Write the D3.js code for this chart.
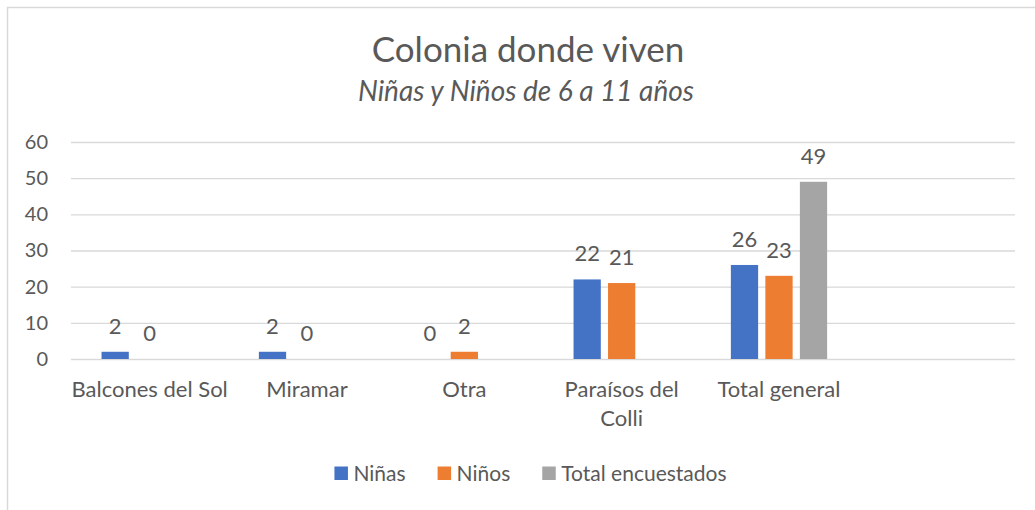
<!DOCTYPE html>
<html>
<head>
<meta charset="utf-8">
<script src="https://d3js.org/d3.v7.min.js"></script>
<style>
  html, body { margin: 0; padding: 0; background: #fff; }
  svg text { font-family: Lato, "Open Sans", sans-serif; fill: #595959; }
</style>
</head>
<body>
<div id="chart"></div>
<script>
// datos
const categories = ["Balcones del Sol", "Miramar", "Otra", "Paraísos del Colli", "Total general", ""];
const seriesNames = ["Niñas", "Niños", "Total encuestados"];
const ninas = [2, 2, 0, 22, 26, null];
const ninos = [0, 0, 2, 21, 23, null];
const totalEncuestados = [null, null, null, null, 49, null];
const yTicks = [0, 10, 20, 30, 40, 50, 60];
const colors = ["#4472C4", "#ED7D31", "#A5A5A5"];

const width = 1035;
const height = 510;
const margin = { top: 142, right: 20, bottom: 151, left: 71 };
const innerW = width - margin.left - margin.right;
const innerH = height - margin.top - margin.bottom;

const svg = d3
  .select("#chart")
  .append("svg")
  .attr("width", width)
  .attr("height", height);

// marco del gráfico
svg
  .append("rect")
  .attr("x", 7.5)
  .attr("y", 7.5)
  .attr("width", width + 10)
  .attr("height", height + 10)
  .attr("fill", "none")
  .attr("stroke", "#d9d9d9")
  .attr("stroke-width", 1.5);

// títulos
svg
  .append("text")
  .attr("x", 528)
  .attr("y", 62)
  .attr("text-anchor", "middle")
  .style("font-size", "35px")
  .text("Colonia donde viven");

svg
  .append("text")
  .attr("x", 526)
  .attr("y", 101)
  .attr("text-anchor", "middle")
  .style("font-size", "28px")
  .style("font-style", "italic")
  .text("Niñas y Niños de 6 a 11 años");

const g = svg
  .append("g")
  .attr("transform", `translate(${margin.left},${margin.top})`);

const x0 = d3.scaleBand().domain(d3.range(categories.length)).range([0, innerW]);
const x1 = d3
  .scaleBand()
  .domain(seriesNames)
  .range([0, x0.bandwidth()])
  .paddingInner(0.21)
  .paddingOuter(0.885);
const y = d3.scaleLinear().domain([0, 60]).range([innerH, 0]);

// líneas de cuadrícula
g.append("g")
  .call(d3.axisLeft(y).tickValues(yTicks).tickSize(-innerW).tickFormat(""))
  .call((s) => s.select(".domain").remove())
  .selectAll("line")
  .attr("stroke", "#d9d9d9")
  .attr("stroke-width", 1.3);

// etiquetas eje Y
g.append("g")
  .call(d3.axisLeft(y).tickValues(yTicks).tickSize(0).tickPadding(23))
  .call((s) => s.select(".domain").remove())
  .selectAll("text")
  .style("font-size", "20px")
  .style("font-family", "Lato, sans-serif")
  .attr("fill", "#595959");

// barras
const series = [ninas, ninos, totalEncuestados];
const rows = [];
series.forEach((vals, si) => {
  vals.forEach((v, ci) => {
    if (v !== null) rows.push({ ci, name: seriesNames[si], color: colors[si], v });
  });
});

g.selectAll(".bar")
  .data(rows)
  .enter()
  .append("rect")
  .attr("class", "bar")
  .attr("x", (d) => x0(d.ci) + x1(d.name))
  .attr("y", (d) => y(d.v))
  .attr("width", x1.bandwidth())
  .attr("height", (d) => innerH - y(d.v))
  .attr("fill", (d) => d.color);

// etiquetas de datos
g.selectAll(".lbl")
  .data(rows)
  .enter()
  .append("text")
  .attr("class", "lbl")
  .attr("x", (d) => x0(d.ci) + x1(d.name) + x1.bandwidth() / 2)
  .attr("y", (d) => y(d.v) - 18)
  .attr("text-anchor", "middle")
  .style("font-size", "22px")
  .text((d) => d.v);

// etiquetas de categorías
const catLabels = g
  .append("g")
  .selectAll("text")
  .data(categories)
  .enter()
  .append("text")
  .attr("x", (d, i) => x0(i) + x0.bandwidth() / 2)
  .attr("y", innerH + 38)
  .attr("text-anchor", "middle")
  .style("font-size", "22px");

catLabels.each(function (d) {
  const t = d3.select(this);
  const words = d.split(" ");
  let line = [];
  let tspan = t.append("tspan").attr("x", t.attr("x")).attr("dy", 0);
  words.forEach((w) => {
    line.push(w);
    tspan.text(line.join(" "));
    if (tspan.node().getComputedTextLength() > x0.bandwidth() + 1.5 && line.length > 1) {
      line.pop();
      tspan.text(line.join(" "));
      line = [w];
      tspan = t.append("tspan").attr("x", t.attr("x")).attr("dy", 28.5).text(w);
    }
  });
});

// leyenda
const legend = svg.append("g").attr("transform", "translate(0,481)");
const items = [];
seriesNames.forEach((name, i) => {
  const it = legend.append("g");
  it.append("rect")
    .attr("x", 0)
    .attr("y", -14.5)
    .attr("width", 13.5)
    .attr("height", 13.5)
    .attr("fill", colors[i]);
  const tx = it.append("text")
    .attr("x", 19)
    .attr("y", 0)
    .style("font-size", "21px")
    .text(name);
  const w = 19 + tx.node().getComputedTextLength();
  items.push({ it, w });
});
const gap = 32;
const totalW = d3.sum(items, (d) => d.w) + gap * (items.length - 1);
let lx = 530.5 - totalW / 2;
items.forEach((d) => {
  d.it.attr("transform", `translate(${lx},0)`);
  lx += d.w + gap;
});
</script>
</body>
</html>
